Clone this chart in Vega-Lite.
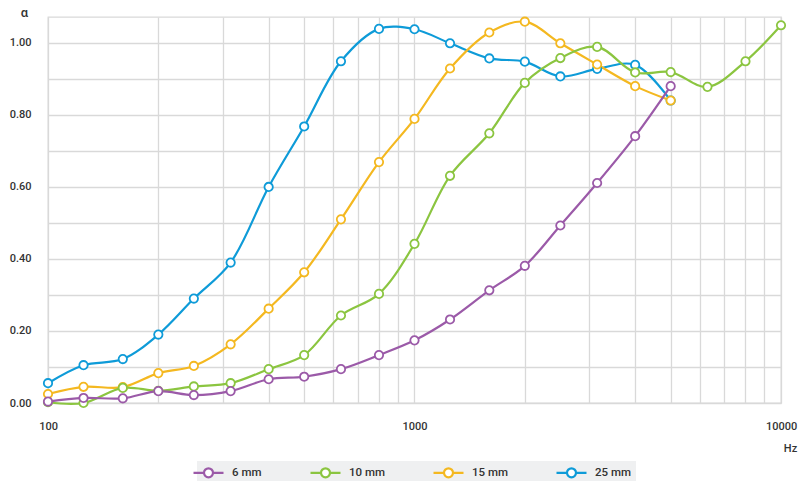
{
  "$schema": "https://vega.github.io/schema/vega-lite/v6.json",
  "width": 733,
  "height": 386,
  "autosize": {"type": "none"},
  "padding": {"left": 48, "top": 17, "right": 19, "bottom": 78},
  "background": "white",
  "config": {
    "font": "Roboto",
    "view": {"stroke": "#d9d9d9", "strokeWidth": 1.3},
    "axis": {"labelFont": "Roboto", "labelFontWeight": 500, "labelFontSize": 11, "labelColor": "#333333", "titleFont": "Roboto", "titleFontWeight": 500, "titleFontSize": 11, "titleColor": "#333333", "domain": false, "ticks": false, "gridColor": "#d9d9d9", "gridWidth": 1.3}
  },
  "data": {
    "values": [
      {"f": 100, "a": 0.055, "s": "25 mm"}, {"f": 125, "a": 0.105, "s": "25 mm"}, {"f": 160, "a": 0.122, "s": "25 mm"}, {"f": 200, "a": 0.19, "s": "25 mm"}, {"f": 250, "a": 0.29, "s": "25 mm"}, {"f": 315, "a": 0.39, "s": "25 mm"}, {"f": 400, "a": 0.6, "s": "25 mm"}, {"f": 500, "a": 0.768, "s": "25 mm"}, {"f": 630, "a": 0.949, "s": "25 mm"}, {"f": 800, "a": 1.039, "s": "25 mm"}, {"f": 1000, "a": 1.038, "s": "25 mm"}, {"f": 1250, "a": 0.999, "s": "25 mm"}, {"f": 1600, "a": 0.957, "s": "25 mm"}, {"f": 2000, "a": 0.948, "s": "25 mm"}, {"f": 2500, "a": 0.907, "s": "25 mm"}, {"f": 3150, "a": 0.928, "s": "25 mm"}, {"f": 4000, "a": 0.939, "s": "25 mm"}, {"f": 5000, "a": 0.84, "s": "25 mm"},
      {"f": 100, "a": 0.025, "s": "15 mm"}, {"f": 125, "a": 0.045, "s": "15 mm"}, {"f": 160, "a": 0.044, "s": "15 mm"}, {"f": 200, "a": 0.083, "s": "15 mm"}, {"f": 250, "a": 0.103, "s": "15 mm"}, {"f": 315, "a": 0.163, "s": "15 mm"}, {"f": 400, "a": 0.262, "s": "15 mm"}, {"f": 500, "a": 0.363, "s": "15 mm"}, {"f": 630, "a": 0.51, "s": "15 mm"}, {"f": 800, "a": 0.669, "s": "15 mm"}, {"f": 1000, "a": 0.789, "s": "15 mm"}, {"f": 1250, "a": 0.929, "s": "15 mm"}, {"f": 1600, "a": 1.029, "s": "15 mm"}, {"f": 2000, "a": 1.059, "s": "15 mm"}, {"f": 2500, "a": 0.999, "s": "15 mm"}, {"f": 3150, "a": 0.94, "s": "15 mm"}, {"f": 4000, "a": 0.88, "s": "15 mm"}, {"f": 5000, "a": 0.84, "s": "15 mm"},
      {"f": 100, "a": 0.002, "s": "10 mm"}, {"f": 125, "a": 0.0, "s": "10 mm"}, {"f": 160, "a": 0.042, "s": "10 mm"}, {"f": 200, "a": 0.034, "s": "10 mm"}, {"f": 250, "a": 0.046, "s": "10 mm"}, {"f": 315, "a": 0.055, "s": "10 mm"}, {"f": 400, "a": 0.094, "s": "10 mm"}, {"f": 500, "a": 0.133, "s": "10 mm"}, {"f": 630, "a": 0.243, "s": "10 mm"}, {"f": 800, "a": 0.303, "s": "10 mm"}, {"f": 1000, "a": 0.442, "s": "10 mm"}, {"f": 1250, "a": 0.631, "s": "10 mm"}, {"f": 1600, "a": 0.749, "s": "10 mm"}, {"f": 2000, "a": 0.889, "s": "10 mm"}, {"f": 2500, "a": 0.958, "s": "10 mm"}, {"f": 3150, "a": 0.989, "s": "10 mm"}, {"f": 4000, "a": 0.918, "s": "10 mm"}, {"f": 5000, "a": 0.919, "s": "10 mm"}, {"f": 6300, "a": 0.878, "s": "10 mm"}, {"f": 8000, "a": 0.949, "s": "10 mm"}, {"f": 10000, "a": 1.049, "s": "10 mm"},
      {"f": 100, "a": 0.004, "s": "6 mm"}, {"f": 125, "a": 0.014, "s": "6 mm"}, {"f": 160, "a": 0.013, "s": "6 mm"}, {"f": 200, "a": 0.033, "s": "6 mm"}, {"f": 250, "a": 0.022, "s": "6 mm"}, {"f": 315, "a": 0.033, "s": "6 mm"}, {"f": 400, "a": 0.066, "s": "6 mm"}, {"f": 500, "a": 0.073, "s": "6 mm"}, {"f": 630, "a": 0.094, "s": "6 mm"}, {"f": 800, "a": 0.133, "s": "6 mm"}, {"f": 1000, "a": 0.174, "s": "6 mm"}, {"f": 1250, "a": 0.232, "s": "6 mm"}, {"f": 1600, "a": 0.313, "s": "6 mm"}, {"f": 2000, "a": 0.381, "s": "6 mm"}, {"f": 2500, "a": 0.493, "s": "6 mm"}, {"f": 3150, "a": 0.611, "s": "6 mm"}, {"f": 4000, "a": 0.741, "s": "6 mm"}, {"f": 5000, "a": 0.88, "s": "6 mm"}
    ]
  },
  "encoding": {
    "x": {
      "field": "f", "type": "quantitative",
      "scale": {"type": "log", "domain": [100, 10000], "nice": false},
      "axis": {
        "values": [100, 200, 300, 400, 500, 600, 700, 800, 900, 1000, 2000, 3000, 4000, 5000, 6000, 7000, 8000, 9000, 10000],
        "labelExpr": "datum.value == 100 || datum.value == 1000 || datum.value == 10000 ? datum.value : ''",
        "labelPadding": 17,
        "labelFlush": false,
        "labelOverlap": false,
        "title": "Hz",
        "titleAnchor": "start",
        "titleX": 742, "titleY": 45, "titleAlign": "center", "titleBaseline": "middle"
      }
    },
    "y": {
      "field": "a", "type": "quantitative",
      "scale": {"domain": [0, 1.072], "nice": false},
      "axis": {
        "values": [0, 0.1, 0.2, 0.3, 0.4, 0.5, 0.6, 0.7, 0.8, 0.9, 1.0],
        "labelExpr": "round(datum.value * 10) % 2 == 0 ? format(datum.value, '.2f') : ''",
        "labelPadding": 17,
        "labelOverlap": false,
        "title": "α",
        "titleFontSize": 13,
        "titleAngle": 0, "titleX": -24, "titleY": -5, "titleAlign": "center", "titleBaseline": "middle"
      }
    },
    "color": {
      "field": "s", "type": "nominal",
      "scale": {"domain": ["6 mm", "10 mm", "15 mm", "25 mm"], "range": ["#9b5aa8", "#8bc540", "#f4b820", "#0e9bd8"]},
      "legend": {
        "title": null,
        "orient": "none",
        "direction": "horizontal",
        "legendX": 149,
        "legendY": 444,
        "padding": 5,
        "fillColor": "#eff0f1",
        "columnPadding": 44,
        "labelOffset": 17,
        "labelFont": "Roboto",
        "labelFontWeight": 500,
        "labelFontSize": 11.5,
        "labelColor": "#333333",
        "symbolType": "M-3,0L-0.9,0M0.9,0L3,0M0.9,0A0.9,0.9,0,1,1,-0.9,0A0.9,0.9,0,1,1,0.9,0",
        "symbolSize": 100,
        "symbolStrokeWidth": 2.2,
        "symbolFillColor": "white",
        "encode": {"symbols": {"update": {"fill": {"value": "white"}, "strokeWidth": {"value": 2.2}}}}
      }
    }
  },
  "layer": [
    {"mark": {"type": "line", "interpolate": "catmull-rom", "strokeWidth": 2.2}},
    {"mark": {"type": "point", "filled": true, "fill": "white", "size": 70, "strokeWidth": 1.8, "opacity": 1}, "encoding": {"stroke": {"field": "s", "type": "nominal", "scale": {"domain": ["6 mm", "10 mm", "15 mm", "25 mm"], "range": ["#9b5aa8", "#8bc540", "#f4b820", "#0e9bd8"]}, "legend": null}, "color": {"value": "white"}}}
  ]
}
